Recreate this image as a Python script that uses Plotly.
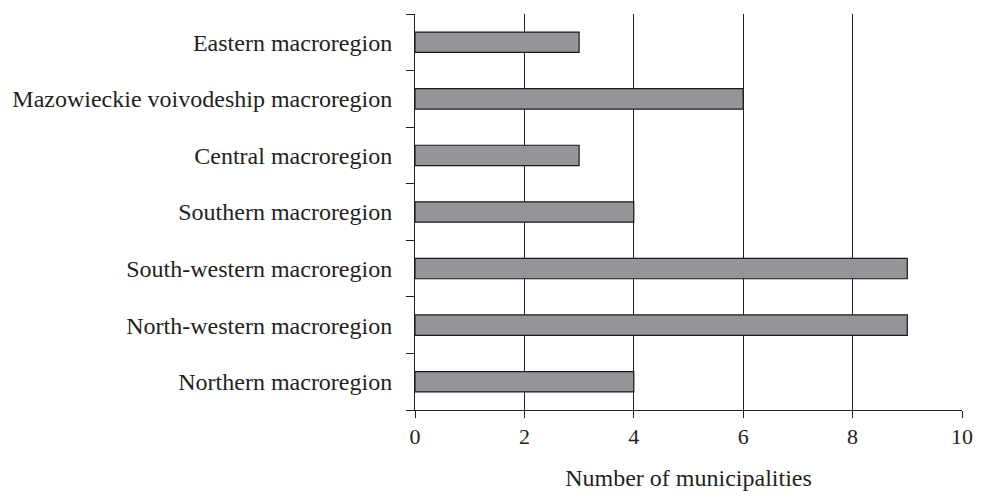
import plotly.graph_objects as go

categories = [
    "Northern macroregion",
    "North-western macroregion",
    "South-western macroregion",
    "Southern macroregion",
    "Central macroregion",
    "Mazowieckie voivodeship macroregion",
    "Eastern macroregion",
]
values = [4, 9, 9, 4, 3, 6, 3]
x_ticks = [0, 2, 4, 6, 8, 10]

fig = go.Figure(
    go.Bar(
        y=categories,
        x=values,
        orientation="h",
        marker=dict(color="#939598", line=dict(color="#1a1a1a", width=1.2)),
        width=0.36,
    )
)

family = "Liberation Serif, Times New Roman, serif"
ink = "#231f20"

fig.update_layout(
    width=985,
    height=498,
    margin=dict(l=411, r=15, t=14, b=83),
    plot_bgcolor="white",
    paper_bgcolor="white",
    font=dict(family=family, size=22, color=ink),
    showlegend=False,
    xaxis=dict(
        range=[0, 10],
        tickvals=x_ticks,
        ticks="outside",
        ticklen=7,
        tickcolor=ink,
        showgrid=True,
        gridcolor=ink,
        gridwidth=1,
        zeroline=False,
        showline=True,
        linecolor=ink,
        linewidth=1,
        title=dict(text="Number of municipalities", standoff=20,
                   font=dict(family=family, size=24, color=ink)),
        tickfont=dict(family=family, size=22, color=ink),
    ),
    yaxis=dict(
        type="category",
        categoryorder="array",
        categoryarray=categories,
        ticks="outside",
        tickson="boundaries",
        ticklen=8,
        tickcolor=ink,
        showline=True,
        linecolor=ink,
        linewidth=1,
        showgrid=False,
        zeroline=False,
        ticklabelstandoff=17,
        tickfont=dict(family=family, size=24, color=ink),
    ),
)

fig.write_html(
    "out.html",
    config={"displayModeBar": False},
    post_script="document.body.style.margin='0';document.body.style.overflow='hidden';",
)
